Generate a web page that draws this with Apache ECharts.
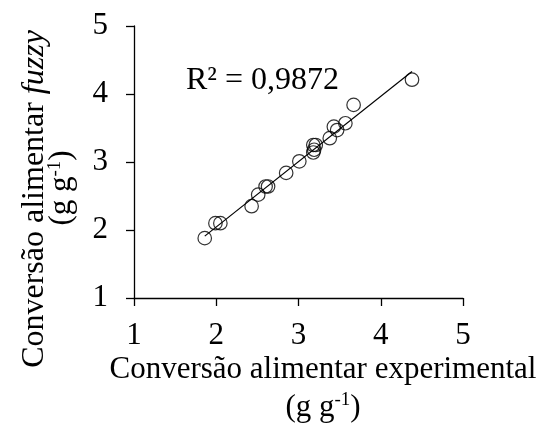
<!DOCTYPE html>
<html>
<head>
<meta charset="utf-8">
<script src="https://cdn.jsdelivr.net/npm/echarts@6/dist/echarts.min.js"></script>
<style>html,body{margin:0;padding:0;background:#fff}#c{width:545px;height:432px}</style>
</head>
<body>
<div id="c"></div>
<script>
var experimental = [1.86, 1.99, 2.05, 2.43, 2.51, 2.60, 2.63, 2.85, 3.01, 3.18, 3.19, 3.18, 3.21, 3.38, 3.43, 3.47, 3.57, 3.67, 4.38];
var fuzzy =        [1.88, 2.10, 2.10, 2.35, 2.52, 2.64, 2.64, 2.84, 3.01, 3.14, 3.18, 3.25, 3.25, 3.35, 3.52, 3.47, 3.57, 3.84, 4.21];
var trendX = [1.86, 4.38];
var trendY = [1.91, 4.33];
var axisTicks = [1, 2, 3, 4, 5];
var r2Label = 'R² = 0,9872';

var pts = experimental.map(function (x, i) { return [x, fuzzy[i]]; });
var trend = trendX.map(function (x, i) { return [x, trendY[i]]; });
var FONT = 'Liberation Serif';

var chart = echarts.init(document.getElementById('c'));
function axis(margin) {
  return {
    type: 'value', min: axisTicks[0], max: axisTicks[axisTicks.length - 1], interval: 1,
    splitLine: { show: false },
    axisLine: { show: true, lineStyle: { color: '#000', width: 1.3 } },
    axisTick: { show: true, length: 8, lineStyle: { color: '#000', width: 1.3 } },
    axisLabel: { color: '#000', fontFamily: FONT, fontSize: 31, margin: margin }
  };
}
chart.setOption({
  animation: false,
  grid: { left: 134, right: 82, top: 26, bottom: 134 },
  xAxis: axis(22),
  yAxis: axis(26),
  series: [
    { type: 'line', data: trend, symbol: 'none', lineStyle: { color: '#000', width: 1.2 }, z: 1 },
    { type: 'scatter', data: pts, symbol: 'circle', symbolSize: 13.5,
      itemStyle: { color: 'rgba(255,255,255,0)', borderColor: '#000', borderWidth: 1.2 }, z: 2 }
  ],
  graphic: [
    { type: 'text', x: 186, y: 81, style: { text: r2Label, font: '32px "Liberation Serif"', fill: '#000', verticalAlign: 'middle' } },
    { type: 'text', x: 323, y: 369.5, style: {
        text: 'Conversão alimentar experimental', fill: '#000',
        font: '31px "Liberation Serif"', align: 'center', verticalAlign: 'middle' } },
    { type: 'text', x: 323, y: 407.5, style: {
        text: '(g g{sup|-1})', fill: '#000',
        font: '31px "Liberation Serif"', align: 'center', verticalAlign: 'middle',
        rich: { sup: { fontSize: 19, fontFamily: FONT, verticalAlign: 'top', padding: [0, 0, 14, 0] } } } },
    { type: 'text', x: 35, y: 199, rotation: Math.PI / 2, style: {
        text: 'Conversão alimentar {it|fuzzy}', fill: '#000',
        font: '32px "Liberation Serif"', align: 'center', verticalAlign: 'middle',
        rich: { it: { fontStyle: 'italic', fontSize: 32, fontFamily: FONT } } } },
    { type: 'text', x: 62, y: 188, rotation: Math.PI / 2, style: {
        text: '(g g{sup|-1})', fill: '#000',
        font: '31px "Liberation Serif"', align: 'center', verticalAlign: 'middle',
        rich: { sup: { fontSize: 19, fontFamily: FONT, verticalAlign: 'top', padding: [0, 0, 14, 0] } } } }
  ]
});
</script>
</body>
</html>
